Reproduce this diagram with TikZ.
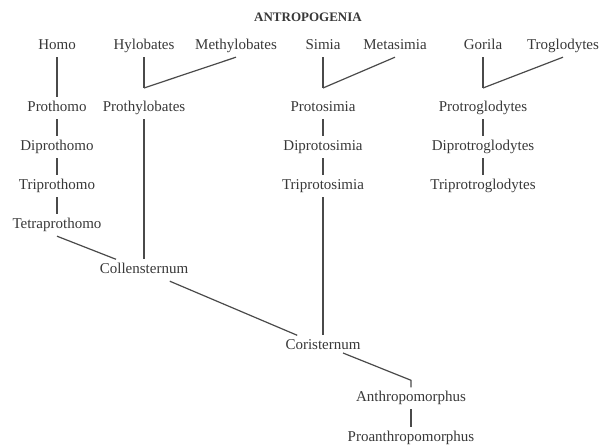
\documentclass[tikz,border=0pt]{standalone}
\usepackage{fontspec}
\setmainfont{Liberation Serif}
\usetikzlibrary{calc}
\definecolor{ink}{HTML}{383838}
\definecolor{wire}{HTML}{4A4A4A}
\begin{document}
\begin{tikzpicture}[x=1pt,y=-1pt,
  taxon/.style={anchor=base, inner xsep=2pt, inner ysep=4pt, text height=10.5pt, text depth=3pt,
    font=\fontsize{15}{18}\selectfont, text=ink},
  heading/.style={anchor=base, inner sep=0pt, font=\bfseries\fontsize{13}{16}\selectfont, text=ink},
  link/.style={draw=wire, line width=1.2pt}]
\useasboundingbox (0,0) rectangle (603,446);
\node[heading] (title) at (308,22) {ANTROPOGENIA};
% row 1
\node[taxon] (Homo) at (57,50) {Homo};
\node[taxon] (Hylobates) at (144,50) {Hylobates};
\node[taxon] (Methylobates) at (236,50) {Methylobates};
\node[taxon] (Simia) at (323,50) {Simia};
\node[taxon] (Metasimia) at (395,50) {Metasimia};
\node[taxon] (Gorila) at (483,50) {Gorila};
\node[taxon] (Troglodytes) at (563,50) {Troglodytes};
% row 2
\node[taxon] (Prothomo) at (57,112) {Prothomo};
\node[taxon] (Prothylobates) at (144,112) {Prothylobates};
\node[taxon] (Protosimia) at (323,112) {Protosimia};
\node[taxon] (Protroglodytes) at (483,112) {Protroglodytes};
% row 3
\node[taxon] (Diprothomo) at (57,151) {Diprothomo};
\node[taxon] (Diprotosimia) at (323,151) {Diprotosimia};
\node[taxon] (Diprotroglodytes) at (483,151) {Diprotroglodytes};
% row 4
\node[taxon] (Triprothomo) at (57,190) {Triprothomo};
\node[taxon] (Triprotosimia) at (323,190) {Triprotosimia};
\node[taxon] (Triprotroglodytes) at (483,190) {Triprotroglodytes};
% lower part
\node[taxon] (Tetraprothomo) at (57,229) {Tetraprothomo};
\node[taxon] (Collensternum) at (144,274) {Collensternum};
\node[taxon] (Coristernum) at (323,350) {Coristernum};
\node[taxon] (Anthropomorphus) at (411,402) {Anthropomorphus};
\node[taxon] (Proanthropomorphus) at (411,442) {Proanthropomorphus};
% junctions
\coordinate (jHylo) at (144,88);
\coordinate (jSimia) at (323,88);
\coordinate (jTrog) at (483,88);
% connectors
\draw[link] (Homo.south) -- (Prothomo.north);
\draw[link] (Prothomo.south) -- (Diprothomo.north);
\draw[link] (Diprothomo.south) -- (Triprothomo.north);
\draw[link] (Triprothomo.south) -- (Tetraprothomo.north);
\draw[link] (Hylobates.south) -- (jHylo);
\draw[link] (Methylobates.south) -- (jHylo);
\draw[link] (Simia.south) -- (jSimia);
\draw[link] (Metasimia.south) -- (jSimia);
\draw[link] (Gorila.south) -- (jTrog);
\draw[link] (Troglodytes.south) -- (jTrog);
\draw[link] (Protosimia.south) -- (Diprotosimia.north);
\draw[link] (Diprotosimia.south) -- (Triprotosimia.north);
\draw[link] (Protroglodytes.south) -- (Diprotroglodytes.north);
\draw[link] (Diprotroglodytes.south) -- (Triprotroglodytes.north);
\draw[link] (Prothylobates.south) -- (Collensternum.north);
\draw[link] (Tetraprothomo.south) -- (Collensternum);
\draw[link] (Collensternum) -- (Coristernum);
\draw[link] (Triprotosimia.south) -- (Coristernum.north);
\draw[link] ($(Coristernum.base)+(20,3)$) -- ($(Anthropomorphus.north)+(0,-7)$) -- (Anthropomorphus.north);
\draw[link] (Anthropomorphus.south) -- (Proanthropomorphus.north);
\end{tikzpicture}
\end{document}
